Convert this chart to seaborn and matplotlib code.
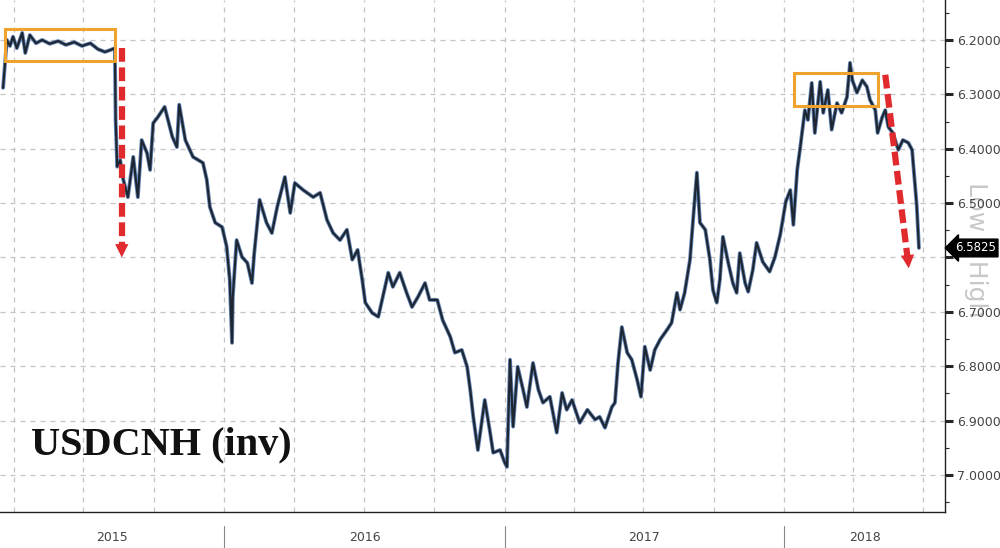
import pandas as pd
import seaborn as sns
import matplotlib.pyplot as plt
import matplotlib.dates as mdates
import matplotlib.transforms as mtransforms
from matplotlib.patches import Rectangle
from matplotlib.ticker import MultipleLocator, FuncFormatter

# USDCNH readings (inverted axis)
dates = ['2015-03-18', '2015-03-23', '2015-03-27', '2015-03-31', '2015-04-05', '2015-04-12',
         '2015-04-16', '2015-04-22', '2015-04-30', '2015-05-08', '2015-05-18', '2015-05-29',
         '2015-06-08', '2015-06-19', '2015-06-29', '2015-07-10', '2015-07-20', '2015-07-29',
         '2015-08-06', '2015-08-11', '2015-08-12', '2015-08-14', '2015-08-18', '2015-08-22',
         '2015-08-28', '2015-09-04', '2015-09-10', '2015-09-15', '2015-09-22', '2015-09-26',
         '2015-09-30', '2015-10-06', '2015-10-15', '2015-10-25', '2015-10-31', '2015-11-03',
         '2015-11-11', '2015-11-21', '2015-12-04', '2015-12-09', '2015-12-13', '2015-12-20',
         '2015-12-29', '2016-01-04', '2016-01-08', '2016-01-11', '2016-01-12', '2016-01-17',
         '2016-01-24', '2016-01-31', '2016-02-06', '2016-02-09', '2016-02-16', '2016-02-25',
         '2016-03-03', '2016-03-10', '2016-03-20', '2016-03-27', '2016-04-02', '2016-04-13',
         '2016-04-26', '2016-05-05', '2016-05-14', '2016-05-22', '2016-05-31', '2016-06-09',
         '2016-06-16', '2016-06-23', '2016-06-29', '2016-07-03', '2016-07-12', '2016-07-20',
         '2016-07-26', '2016-08-02', '2016-08-08', '2016-08-17', '2016-08-26', '2016-09-02',
         '2016-09-10', '2016-09-19', '2016-09-25', '2016-10-05', '2016-10-12', '2016-10-22',
         '2016-10-28', '2016-11-06', '2016-11-13', '2016-11-17', '2016-11-21', '2016-11-27',
         '2016-12-06', '2016-12-13', '2016-12-17', '2016-12-26', '2017-01-01', '2017-01-04',
         '2017-01-08', '2017-01-12', '2017-01-18', '2017-01-25', '2017-01-30', '2017-02-07',
         '2017-02-14', '2017-02-20', '2017-03-01', '2017-03-10', '2017-03-17', '2017-03-23',
         '2017-03-30', '2017-04-09', '2017-04-19', '2017-04-29', '2017-05-05', '2017-05-12',
         '2017-05-21', '2017-05-25', '2017-05-29', '2017-06-03', '2017-06-10', '2017-06-16',
         '2017-06-23', '2017-06-28', '2017-07-03', '2017-07-10', '2017-07-16', '2017-07-23',
         '2017-08-01', '2017-08-07', '2017-08-14', '2017-08-18', '2017-08-24', '2017-08-31',
         '2017-09-04', '2017-09-09', '2017-09-13', '2017-09-20', '2017-09-26', '2017-09-30',
         '2017-10-05', '2017-10-09', '2017-10-13', '2017-10-20', '2017-10-26', '2017-10-31',
         '2017-11-04', '2017-11-11', '2017-11-15', '2017-11-21', '2017-11-26', '2017-12-04',
         '2017-12-13', '2017-12-20', '2017-12-27', '2018-01-03', '2018-01-09', '2018-01-13',
         '2018-01-18', '2018-01-22', '2018-01-28', '2018-02-01', '2018-02-06', '2018-02-10',
         '2018-02-17', '2018-02-21', '2018-02-27', '2018-03-04', '2018-03-11', '2018-03-17',
         '2018-03-24', '2018-03-28', '2018-03-31', '2018-04-06', '2018-04-13', '2018-04-19',
         '2018-04-23', '2018-04-30', '2018-05-03', '2018-05-09', '2018-05-13', '2018-05-17',
         '2018-05-23', '2018-05-30', '2018-06-05', '2018-06-12', '2018-06-17', '2018-06-20',
         '2018-06-23', '2018-06-26']
usdcnh = [6.288, 6.200, 6.211, 6.194, 6.215, 6.187,
          6.224, 6.191, 6.206, 6.200, 6.207, 6.202,
          6.209, 6.204, 6.211, 6.206, 6.217, 6.222,
          6.218, 6.215, 6.347, 6.433, 6.421, 6.457,
          6.489, 6.415, 6.489, 6.384, 6.408, 6.439,
          6.353, 6.342, 6.323, 6.378, 6.397, 6.319,
          6.384, 6.415, 6.426, 6.457, 6.507, 6.536,
          6.544, 6.580, 6.641, 6.757, 6.672, 6.568,
          6.599, 6.610, 6.647, 6.592, 6.494, 6.536,
          6.555, 6.507, 6.452, 6.518, 6.463, 6.476,
          6.489, 6.481, 6.531, 6.555, 6.568, 6.549,
          6.604, 6.586, 6.641, 6.683, 6.702, 6.709,
          6.672, 6.628, 6.654, 6.628, 6.665, 6.691,
          6.672, 6.647, 6.678, 6.678, 6.715, 6.746,
          6.775, 6.770, 6.801, 6.843, 6.893, 6.954,
          6.862, 6.922, 6.959, 6.954, 6.977, 6.985,
          6.788, 6.911, 6.801, 6.843, 6.875, 6.794,
          6.843, 6.867, 6.856, 6.922, 6.849, 6.880,
          6.862, 6.904, 6.880, 6.898, 6.893, 6.913,
          6.875, 6.867, 6.794, 6.728, 6.775, 6.788,
          6.825, 6.856, 6.764, 6.807, 6.770, 6.751,
          6.733, 6.720, 6.665, 6.696, 6.665, 6.604,
          6.531, 6.444, 6.536, 6.549, 6.604, 6.660,
          6.683, 6.641, 6.562, 6.610, 6.647, 6.665,
          6.592, 6.647, 6.663, 6.623, 6.573, 6.608,
          6.626, 6.599, 6.557, 6.498, 6.476, 6.540,
          6.439, 6.397, 6.329, 6.347, 6.279, 6.371,
          6.277, 6.334, 6.292, 6.365, 6.316, 6.334,
          6.305, 6.242, 6.274, 6.297, 6.274, 6.286,
          6.310, 6.329, 6.371, 6.342, 6.329, 6.360,
          6.371, 6.402, 6.384, 6.389, 6.402, 6.452,
          6.503, 6.5825]

years = ['2015', '2016', '2017', '2018']
last_value = 6.5825

df = pd.DataFrame({'date': pd.to_datetime(dates), 'px': usdcnh})

sns.set_style('white')
fig = plt.figure(figsize=(10, 5.48), dpi=100)
ax = fig.add_axes([0.0, 36 / 548, 0.945, 512 / 548])

sns.lineplot(data=df, x='date', y='px', ax=ax, color='#3f6aa8', lw=2.8, alpha=0.8)
sns.lineplot(data=df, x='date', y='px', ax=ax, color='#1e2632', lw=1.6)

x0, x1 = pd.Timestamp('2015-03-14'), pd.Timestamp('2018-07-30')
ax.set_xlim(x0, x1)
ax.set_ylim(7.068, 6.1265)


def ylab(v, pos):
    # the 6.6000 label sits under the last-value tag
    if abs(v - 6.6) < 1e-6:
        return ''
    return f'{v:.4f}'


# axes / ticks
ax.yaxis.tick_right()
ax.yaxis.set_major_locator(MultipleLocator(0.1))
ax.yaxis.set_minor_locator(MultipleLocator(0.05))
ax.yaxis.set_major_formatter(FuncFormatter(ylab))
ax.tick_params(axis='y', which='major', direction='out', length=6, width=2.2,
               labelsize=9, labelcolor='#444444', pad=3)
ax.tick_params(axis='y', which='minor', direction='out', length=3, width=0.8)
ax.xaxis.set_major_locator(mdates.MonthLocator(bymonth=[1, 4, 7, 10]))
ax.xaxis.set_minor_locator(mdates.MonthLocator())
ax.tick_params(axis='x', which='both', direction='out', length=3, width=0.8, labelbottom=False)
ax.set_xlabel('')
ax.set_ylabel('')

for s in ['left', 'top']:
    ax.spines[s].set_visible(False)
for s in ['right', 'bottom']:
    ax.spines[s].set_color('#222222')
    ax.spines[s].set_linewidth(1.0)

ax.grid(True, which='major', color='#c4c4c4', lw=0.9, linestyle=(0, (4, 4)))

# year labels below the axis
trans = mtransforms.blended_transform_factory(ax.transData, ax.transAxes)
bounds = [x0] + [pd.Timestamp(y + '-01-01') for y in years[1:]] + [x1]
for i, yr in enumerate(years):
    mid = bounds[i] + (bounds[i + 1] - bounds[i]) / 2
    ax.text(mid, -0.05, yr, transform=trans, ha='center', va='center',
            fontsize=9, color='#444444')
for b in bounds[1:-1]:
    ax.plot([b, b], [-0.028, -0.075], transform=trans, color='#888888', lw=0.8, clip_on=False)

# orange boxes
orange = '#f0a22e'
for (d0, d1, v0, v1) in [('2015-03-20', '2015-08-11', 6.180, 6.239),
                         ('2018-01-14', '2018-05-03', 6.261, 6.321)]:
    t0, t1 = mdates.date2num(pd.Timestamp(d0)), mdates.date2num(pd.Timestamp(d1))
    ax.add_patch(Rectangle((t0, v0), t1 - t0, v1 - v0, fill=False, ec=orange, lw=2.2, zorder=5))

# red dashed arrows
red = '#e02a2e'
for (d0, v0, d1, v1) in [('2015-08-20', 6.215, '2015-08-20', 6.580),
                         ('2018-05-13', 6.264, '2018-06-11', 6.600)]:
    ta, tb = pd.Timestamp(d0), pd.Timestamp(d1)
    ax.plot([ta, tb], [v0, v1], color=red, lw=4.5, dashes=(2.2, 0.9), zorder=6,
            solid_capstyle='butt')
    ax.annotate('', xy=(tb + (tb - ta) * 0.07, v1 + 0.025), xytext=(tb, v1 - 0.005),
                arrowprops=dict(arrowstyle='-|>', color=red, lw=0, mutation_scale=24),
                zorder=7)

# last value tag
ax.annotate(f'{last_value:.4f}', xy=(1.0, last_value), xycoords=('axes fraction', 'data'),
            xytext=(7, 0), textcoords='offset points', ha='left', va='center',
            fontsize=8.5, color='white',
            bbox=dict(boxstyle='larrow,pad=0.2', fc='black', ec='black'),
            annotation_clip=False, zorder=10)

# faint side label sits behind the tick labels
fig.text(0.976, 0.545, 'Low \u2013 High', rotation=270, ha='center', va='center',
         fontsize=18, color='#c8c8c8', zorder=-1)
ax.text(0.171, 0.131, 'USDCNH (inv)', transform=ax.transAxes, ha='center', va='center',
        fontsize=29, fontweight='bold', family='Liberation Serif', color='#111111')

fig.savefig('out.png', dpi=100)
